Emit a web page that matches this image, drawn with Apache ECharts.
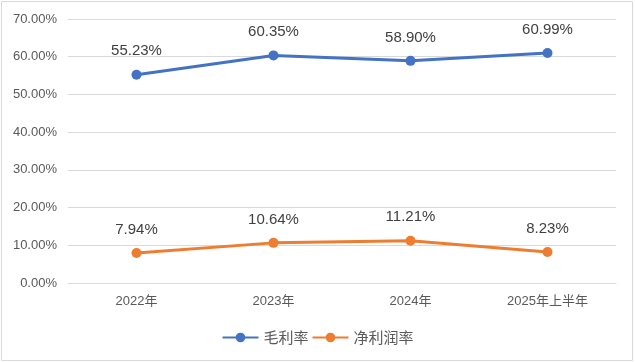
<!DOCTYPE html>
<html><head><meta charset="utf-8">
<script src="https://cdn.jsdelivr.net/npm/echarts@6/dist/echarts.min.js"></script>
<style>html,body{margin:0;padding:0;background:#fff}#c{width:635px;height:362px}</style>
</head><body><div id="c"></div>
<script>
const categories = ['2022年', '2023年', '2024年', '2025年上半年'];
const grossMargin = [55.23, 60.35, 58.90, 60.99];
const netMargin = [7.94, 10.64, 11.21, 8.23];
const yTicks = { min: 0, max: 70, interval: 10 };

const chart = echarts.init(document.getElementById('c'), null, { renderer: 'canvas' });
const labelStyle = {
  show: true, position: 'top', distance: 11,
  fontFamily: 'Liberation Sans, Arial, sans-serif', fontSize: 15, color: '#404040',
  formatter: p => p.value.toFixed(2) + '%'
};
chart.setOption({
  animation: false,
  textStyle: { fontFamily: 'Liberation Sans, "Noto Sans CJK SC", sans-serif' },
  graphic: [{ type: 'rect', shape: { x: 1.5, y: 1.5, width: 631, height: 359 },
    style: { fill: 'none', stroke: '#d9d9d9', lineWidth: 1 }, silent: true }],
  grid: { left: 68, right: 19, top: 19, bottom: 79 },
  legend: {
    top: 325, left: 'center', itemWidth: 36, itemHeight: 12, itemGap: 3,
    textStyle: { fontSize: 15, color: '#595959', fontFamily: '"Noto Sans CJK SC", sans-serif' },
    data: ['毛利率', '净利润率']
  },
  xAxis: {
    type: 'category', data: categories, boundaryGap: true,
    axisLine: { show: true, lineStyle: { color: '#d9d9d9' } },
    axisTick: { show: false },
    axisLabel: { color: '#595959', fontSize: 13, margin: 12, fontFamily: 'Liberation Sans, "Noto Sans CJK SC", sans-serif' }
  },
  yAxis: {
    type: 'value', min: yTicks.min, max: yTicks.max, interval: yTicks.interval,
    axisLine: { show: false }, axisTick: { show: false },
    splitLine: { lineStyle: { color: '#d9d9d9' } },
    axisLabel: { color: '#595959', fontSize: 13, margin: 11, formatter: v => v.toFixed(2) + '%' }
  },
  series: [
    { name: '毛利率', type: 'line', data: grossMargin, symbol: 'circle', symbolSize: 10,
      lineStyle: { width: 3, color: '#4472C4' }, itemStyle: { color: '#4472C4' }, label: labelStyle },
    { name: '净利润率', type: 'line', data: netMargin, symbol: 'circle', symbolSize: 10,
      lineStyle: { width: 3, color: '#ED7D31' }, itemStyle: { color: '#ED7D31' }, label: labelStyle }
  ]
});
</script></body></html>
